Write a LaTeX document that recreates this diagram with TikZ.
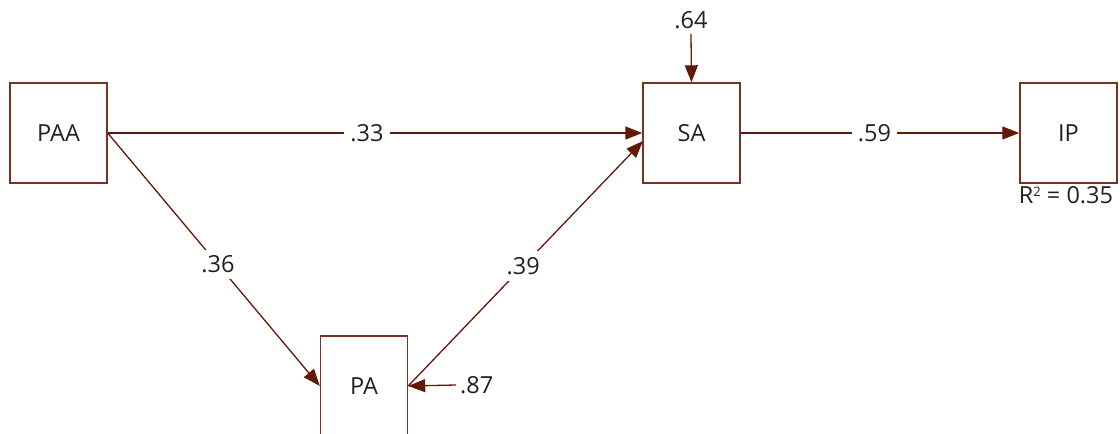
\documentclass[tikz,border=0pt]{standalone}
\usepackage{fontspec}
\setmainfont{Open Sans}
\usetikzlibrary{arrows.meta}
\definecolor{pathbrown}{RGB}{98,26,8}
\definecolor{boxbrown}{RGB}{120,50,35}
\definecolor{inktext}{RGB}{35,31,32}
\begin{document}
\begin{tikzpicture}[x=1pt,y=-1pt,
  lbl/.style={text=inktext,font=\fontsize{23.5}{26}\selectfont},
  var/.style={lbl,draw=boxbrown,line width=1.4pt,minimum width=97pt,minimum height=100pt,
    inner sep=0pt},
  coef/.style={lbl,fill=white,inner xsep=6pt,inner ysep=2pt},
  path/.style={draw=pathbrown,line width=1.3pt,-{Triangle[length=17pt,width=13pt]}}]
\useasboundingbox (0,0) rectangle (1120,434);
\node[var] (paa) at (58.5,133) {PAA};
\node[var] (sa)  at (691.5,133) {SA};
\node[var] (ip)  at (1068.5,133) {IP};
\node[var,minimum width=87pt] (pa) at (364,386) {PA};
\node[lbl,anchor=north,inner sep=0pt] (r2) at (1066,186)
  {R\raisebox{0.5ex}{\fontsize{13}{13}\selectfont 2} = 0.35};
\coordinate (saIn) at (643,141);
\draw[path] (paa.east) -- node[coef,pos=0.485] {.33} (sa.west);
\draw[path] (paa.east) -- node[coef,pos=0.52,inner xsep=2pt,inner ysep=6pt] {.36} (pa.west);
\draw[path] (pa.east) -- node[coef,pos=0.49,inner xsep=2pt,inner ysep=6pt] {.39} (saIn);
\draw[path] (sa.east) -- node[coef,pos=0.48] {.59} (ip.west);
\node[lbl,inner sep=1pt] (e1) at (691,20) {.64};
\coordinate (e1s) at (691,34);
\draw[path] (e1s) -- (sa.north);
\node[lbl,inner sep=4pt,anchor=west] (e2) at (456,385) {.87};
\draw[path] (e2.west) -- (pa.east);
\end{tikzpicture}
\end{document}
